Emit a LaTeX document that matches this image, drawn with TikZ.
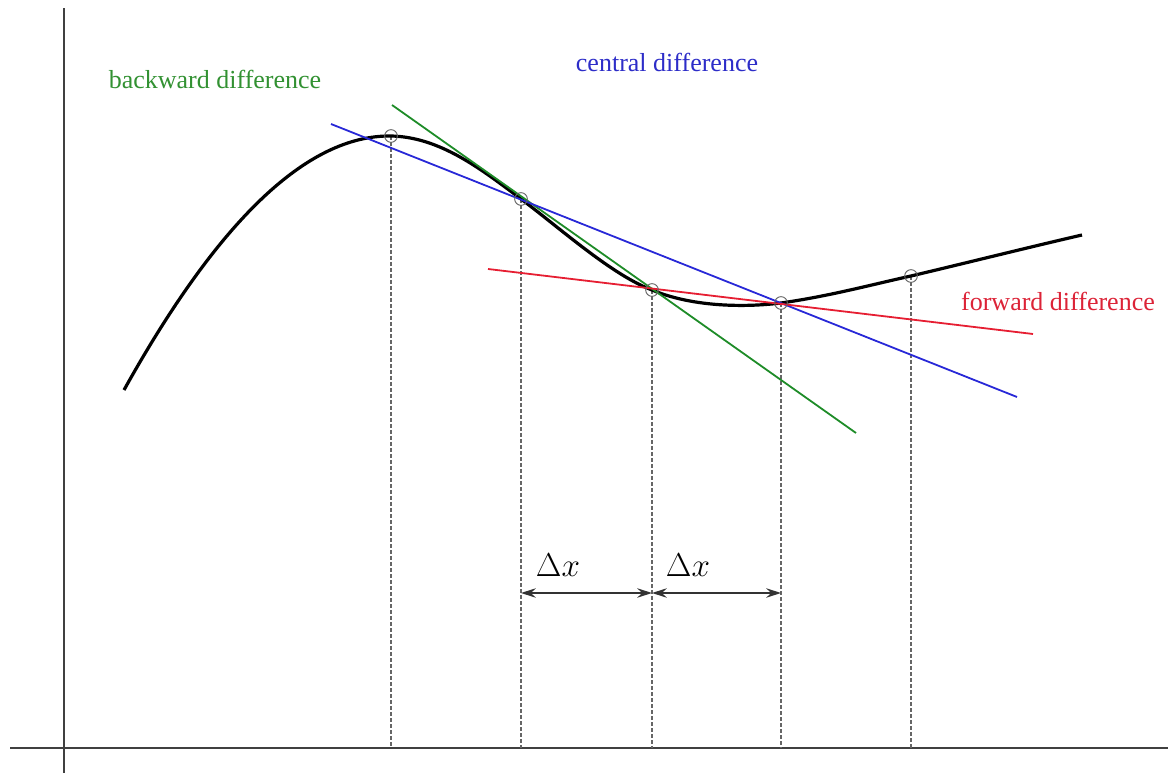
\documentclass[tikz,border=0pt]{standalone}
\usepackage{fontspec}
\setmainfont{Liberation Serif}
\usetikzlibrary{arrows.meta}
\definecolor{gr}{RGB}{30,140,40}
\definecolor{bl}{RGB}{40,40,215}
\definecolor{rd}{RGB}{230,30,50}
\definecolor{grt}{RGB}{50,145,50}
\definecolor{blt}{RGB}{45,45,200}
\definecolor{rdt}{RGB}{220,35,55}
\tikzset{
  axis/.style={line width=1.5pt, black!75},
  curve/.style={line width=2.4pt, black},
  tangent/.style={line width=1.35pt},
  drop/.style={line width=0.8pt, black!60, dash pattern=on 3pt off 1.5pt},
  pt/.style={circle, draw=black!60, line width=0.7pt, minimum size=9.5pt, inner sep=0pt},
  lbl/.style={font=\fontsize{19.5}{22}\selectfont, inner sep=0pt},
  dx/.style={font=\fontsize{23}{26}\selectfont, inner sep=0pt},
  dim/.style={line width=1.4pt, black!80, {Stealth[length=11pt,width=7pt]}-{Stealth[length=11pt,width=7pt]}}
}
\begin{document}
\begin{tikzpicture}[x=0.75pt,y=-0.75pt]
\useasboundingbox (0,0) rectangle (1168,773);
% axes
\coordinate (yb) at (64,773); \coordinate (yt) at (64,8);
\coordinate (xl) at (10,748); \coordinate (xr) at (1168,748);
\draw[axis] (yb) -- (yt);
\draw[axis] (xl) -- (xr);
% sample points
\foreach \n/\x/\y in {1/391/136, 2/521/199, 3/652/290, 4/781/303, 5/911/276}{
  \coordinate (p\n) at (\x,\y);
  \coordinate (b\n) at (\x,748);
  \draw[drop] (p\n) -- (b\n);
}
% curve
\coordinate (s) at (124,390); \coordinate (e) at (1082,235);
\draw[curve] (s) .. controls (218,221) and (307,135) .. (p1)
  .. controls (440,137) and (481,169) .. (p2)
  .. controls (561,229) and (612,275) .. (p3)
  .. controls (690,306) and (740,308) .. (p4)
  .. controls (830,296) and (870,285) .. (p5)
  .. controls (970,262) and (1030,247) .. (e);
% tangent lines
\coordinate (g1) at (392,105); \coordinate (g2) at (856,433);
\coordinate (c1) at (331,124); \coordinate (c2) at (1017,397);
\coordinate (r1) at (488,269); \coordinate (r2) at (1033,334);
\draw[tangent, gr] (g1) -- (g2);
\draw[tangent, bl] (c1) -- (c2);
\draw[tangent, rd] (r1) -- (r2);
\foreach \n in {1,...,5}{ \node[pt] (q\n) at (p\n) {}; }
% labels
\node[lbl, text=grt] (lb) at (215,79) {backward difference};
\node[lbl, text=blt] (lc) at (667,62) {central difference};
\node[lbl, text=rdt] (lf) at (1058,301) {forward difference};
% delta x
\coordinate (a1) at (521,593); \coordinate (a2) at (652,593); \coordinate (a3) at (781,593);
\draw[dim] (a1) -- (a2);
\draw[dim] (a2) -- (a3);
\node[dx] (d1) at (558,565) {$\Delta x$};
\node[dx] (d2) at (688,565) {$\Delta x$};
\end{tikzpicture}
\end{document}
